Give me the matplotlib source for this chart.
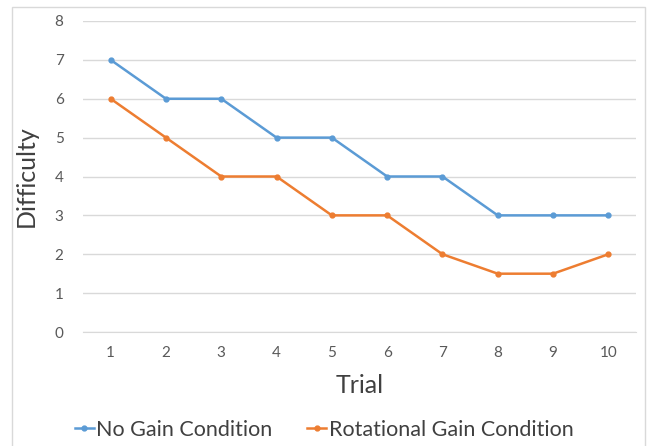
import matplotlib.pyplot as plt
from matplotlib.patches import Rectangle

# data
trials = [1, 2, 3, 4, 5, 6, 7, 8, 9, 10]
no_gain = [7, 6, 6, 5, 5, 4, 4, 3, 3, 3]
rot_gain = [6, 5, 4, 4, 3, 3, 2, 1.5, 1.5, 2]

plt.rcParams['font.family'] = ['Lato', 'DejaVu Sans']

W, H = 648, 446
fig = plt.figure(figsize=(W / 100, H / 100), dpi=100)
# outer chart frame
fig.patches.append(Rectangle((12 / W, -0.05), 633 / W, 1 - 7 / H + 0.05,
                             transform=fig.transFigure, fill=False,
                             edgecolor='#d9d9d9', linewidth=1))

ax = fig.add_axes([83 / W, 1 - 332 / H, 553 / W, 311 / H])
ax.plot(trials, no_gain, color='#5b9bd5', linewidth=1.8, marker='o', markersize=3.5,
        label='No Gain Condition')
ax.plot(trials, rot_gain, color='#ed7d31', linewidth=1.8, marker='o', markersize=3.5,
        label='Rotational Gain Condition')

ax.set_xlim(0.5, 10.5)
ax.set_ylim(0, 8)
ax.set_xticks(trials)
ax.set_yticks(range(0, 9))
ax.grid(axis='y', color='#d9d9d9', linewidth=1)
ax.set_axisbelow(True)
for s in ['top', 'right', 'left']:
    ax.spines[s].set_visible(False)
ax.spines['bottom'].set_color('#d9d9d9')
ax.tick_params(length=0, labelsize=11, colors='#595959', pad=10)
ax.tick_params(axis='y', pad=14)

ax.set_xlabel('Trial', fontsize=18, color='#404040', labelpad=10)
ax.set_ylabel('Difficulty', fontsize=18, color='#404040', labelpad=12)

leg = fig.legend(loc='lower center', bbox_to_anchor=(0.5, -0.03), ncol=2, frameon=False,
                 fontsize=15.5, handlelength=0.9, handletextpad=0.1, columnspacing=1.6,
                 labelcolor='#404040')

fig.savefig('out.png', dpi=100)
